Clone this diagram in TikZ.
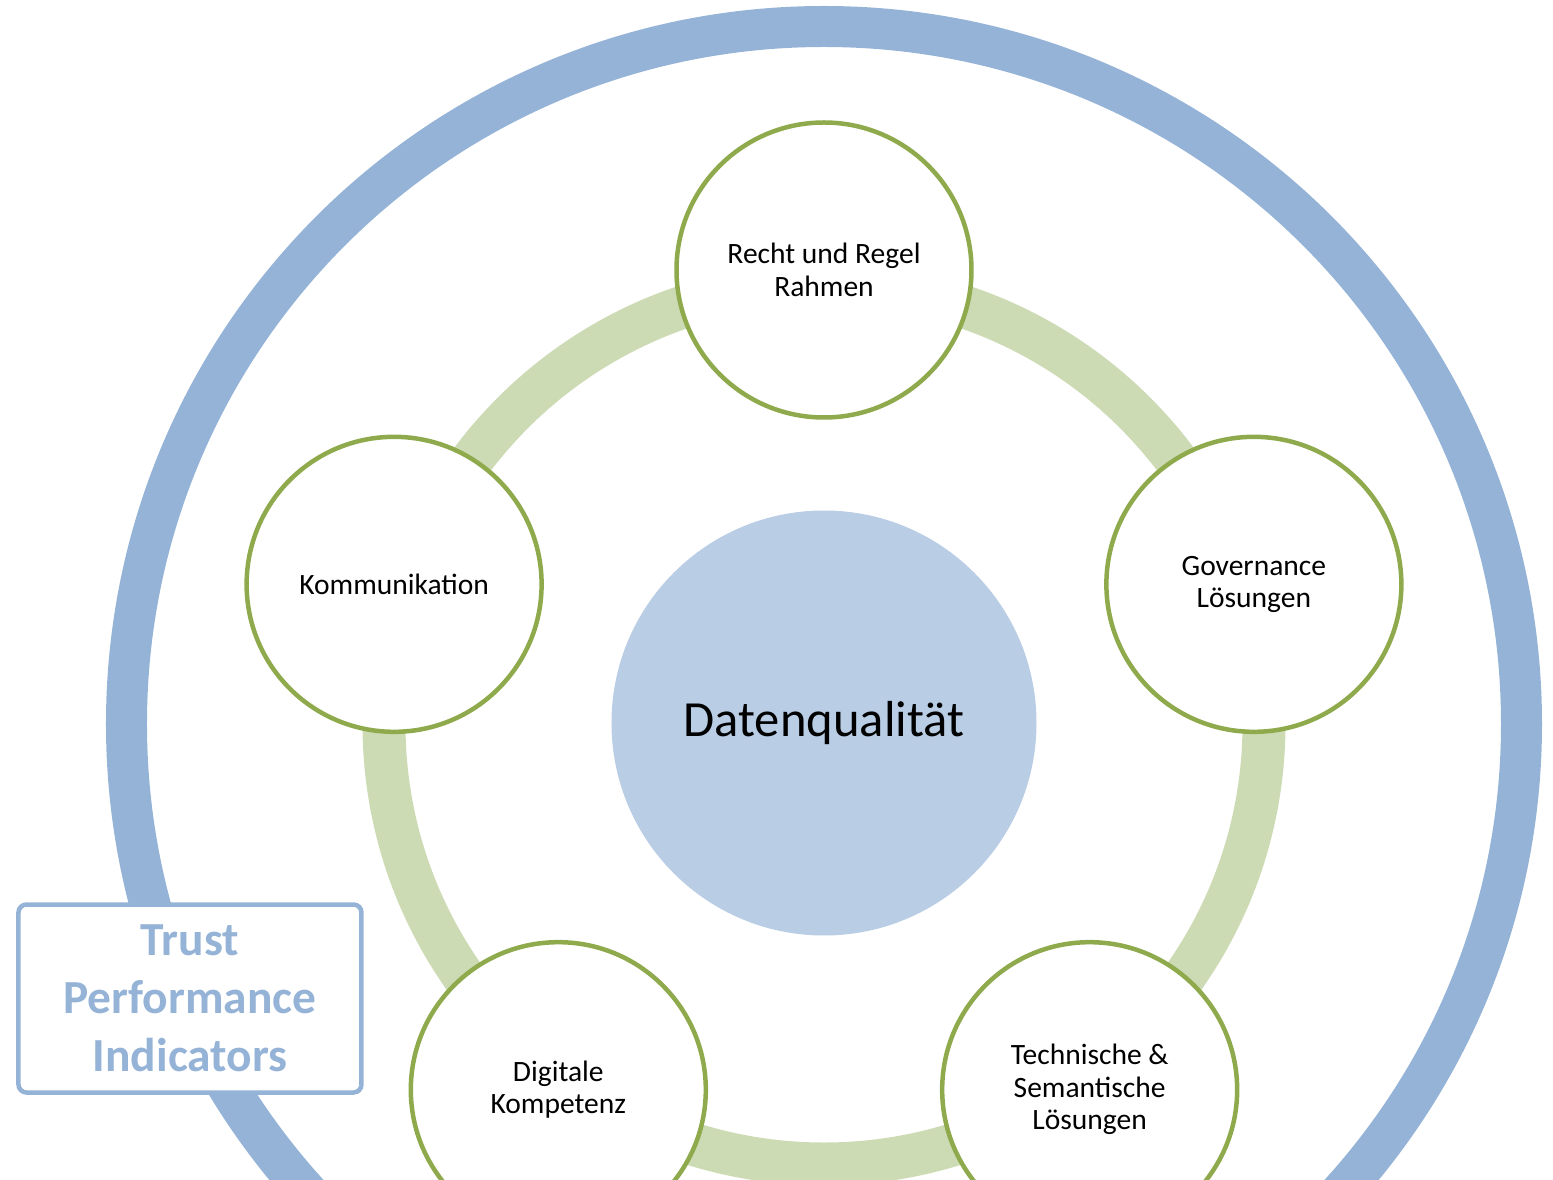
\documentclass[tikz,border=0pt]{standalone}
\usepackage{fontspec}
\setmainfont{Carlito}
\usepackage{xcolor}
\usetikzlibrary{positioning}
\definecolor{ringblue}{RGB}{149,179,215}
\definecolor{coreblue}{RGB}{185,205,229}
\definecolor{leafgreen}{RGB}{143,170,76}
\definecolor{palegreen}{RGB}{205,219,181}

\begin{document}
\begin{tikzpicture}[
    pillar/.style={circle, draw=leafgreen, line width=0.09cm, fill=white, minimum size=5.9cm, align=center, font=\fontsize{16.8}{18.5}\selectfont},
    core/.style={circle, fill=coreblue, minimum size=8.5cm, font=\fontsize{28.8}{34}\selectfont},
    tpibox/.style={rectangle, draw=ringblue, line width=0.09cm, rounded corners=0.16cm, fill=white, minimum width=6.86cm, minimum height=3.76cm, align=center, text=ringblue, font=\bfseries\fontsize{27}{33}\selectfont}
]
    % Frame of the page
    \useasboundingbox (-16.48,-9.1) rectangle (14.58,14.48);
    \clip (-16.48,-9.1) rectangle (14.58,14.48);

    % Outer ring
    \draw[ringblue, line width=0.82cm] (0,0) circle (13.95);

    % Inner ring
    \draw[palegreen, line width=0.86cm] (0,0) circle (8.8);

    % Centre
    \node[core] (dq) at (0,0.02) {Datenqualität};

    % Pillars around the centre
    \node[pillar] (recht) at (90:9.08) {Recht und Regel\\Rahmen};
    \node[pillar] (gov) at (18:9.04) {Governance\\Lösungen};
    \node[pillar] (tech) at (-54:9.04) {Technische \&\\Semantische\\Lösungen};
    \node[pillar] (digi) at (-126:9.04) {Digitale\\Kompetenz};
    \node[pillar] (komm) at (162:9.04) {Kommunikation};

    % Label box
    \node[tpibox] (tpi) at (-12.68,-5.49) {Trust\\Performance\\Indicators};

\end{tikzpicture}
\end{document}
